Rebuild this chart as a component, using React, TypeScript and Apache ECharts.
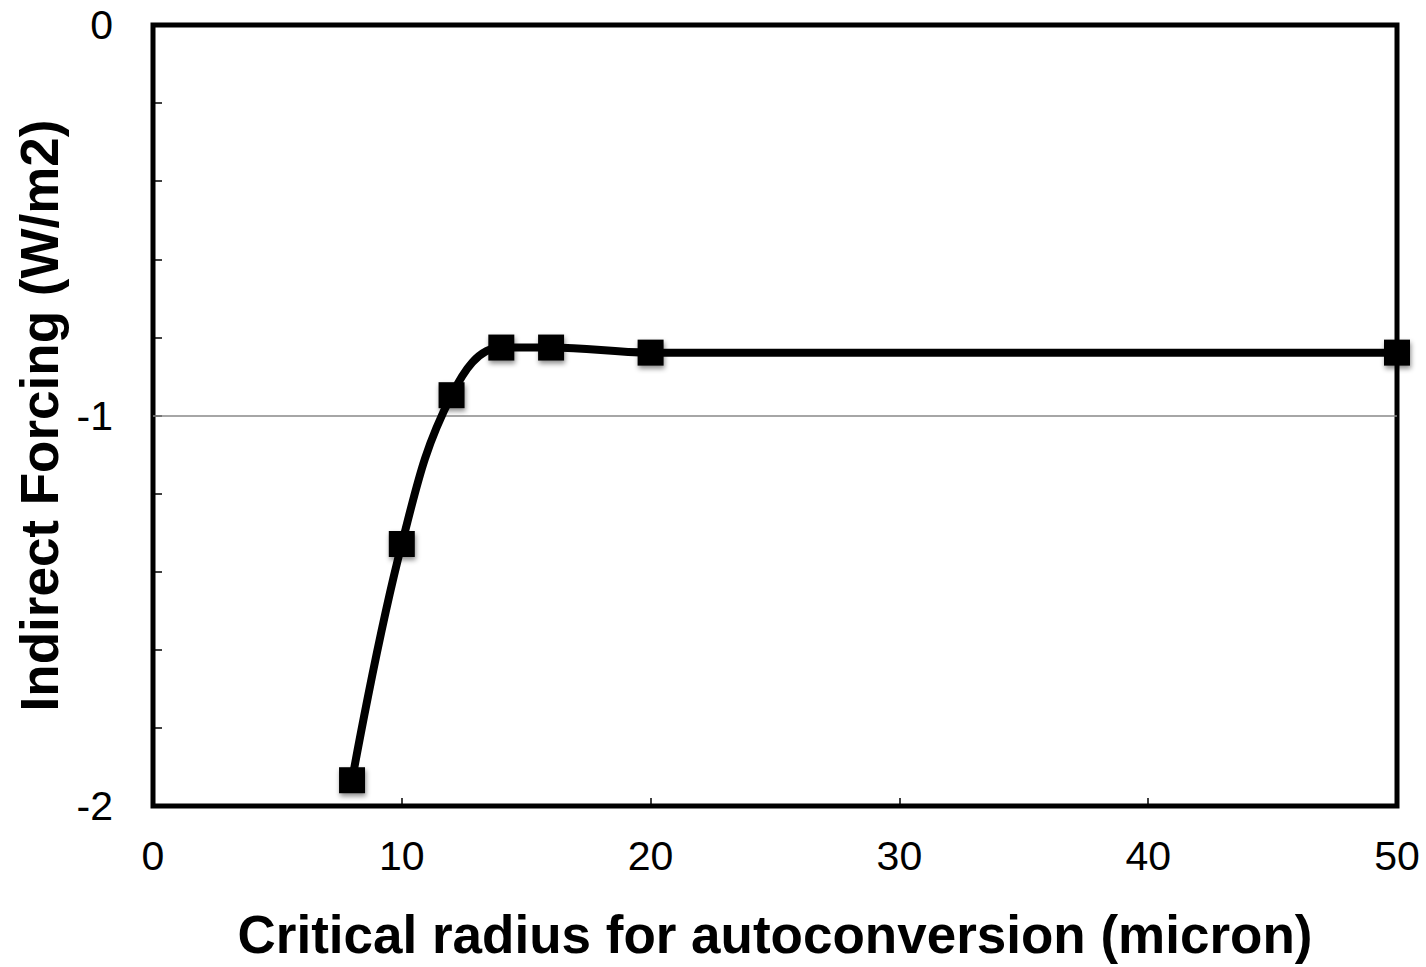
import React, { useEffect, useRef } from "react";
import * as echarts from "echarts";

const radius = [8, 10, 12, 14, 16, 20, 50];
const forcing = [-1.934, -1.329, -0.948, -0.826, -0.826, -0.839, -0.839];
const xTicks = [0, 10, 20, 30, 40, 50];
const yLabels = [0, -1, -2];
const xTitle = "Critical radius for autoconversion (micron)";
const yTitle = "Indirect Forcing (W/m2)";

const FONT = "'Liberation Sans', Arial, sans-serif";

export default function App() {
  const ref = useRef<HTMLDivElement>(null);
  useEffect(() => {
    if (!ref.current) return;
    const chart = echarts.init(ref.current, undefined, { renderer: "svg" });
    const data = radius.map((r, i) => [r, forcing[i]]);
    chart.setOption({
      animation: false,
      backgroundColor: "#fff",
      grid: {
        left: 153,
        right: 29,
        top: 25,
        bottom: 161,
        outerBoundsMode: "none",
        containLabel: false,
        show: true,
        borderColor: "#000",
        borderWidth: 5,
        backgroundColor: "transparent",
      },
      xAxis: {
        type: "value",
        min: xTicks[0],
        max: xTicks[xTicks.length - 1],
        interval: 10,
        axisLine: { show: false, onZero: false },
        axisTick: { show: true, inside: true, length: 8, lineStyle: { color: "#000", width: 1.5 } },
        splitLine: { show: false },
        axisLabel: { fontFamily: FONT, fontSize: 41, color: "#000", margin: 29 },
        name: xTitle,
        nameLocation: "middle",
        nameGap: 102,
        nameTextStyle: { fontFamily: FONT, fontSize: 53, fontWeight: "bold", color: "#000" },
      },
      yAxis: {
        type: "value",
        min: -2,
        max: 0,
        interval: 0.2,
        axisLine: { show: false, onZero: false },
        axisTick: { show: true, inside: true, length: 9, lineStyle: { color: "#000", width: 1.5 } },
        splitLine: { show: false },
        axisLabel: {
          fontFamily: FONT,
          fontSize: 41,
          color: "#000",
          margin: 40,
          formatter: (v: number) => {
            const r = Math.round(v);
            return Math.abs(v - r) < 1e-6 && yLabels.includes(r) ? String(r) : "";
          },
        },
        name: yTitle,
        nameLocation: "middle",
        nameGap: 83,
        nameTextStyle: { fontFamily: FONT, fontSize: 53, fontWeight: "bold", color: "#000" },
      },
      series: [
        {
          type: "line",
          data,
          smooth: 0.4,
          clip: false,
          symbol: "rect",
          symbolSize: 26,
          lineStyle: { color: "#000", width: 8 },
          itemStyle: {
            color: "#000",
            shadowColor: "rgba(0,0,0,0.45)",
            shadowBlur: 5,
            shadowOffsetX: 1,
            shadowOffsetY: 3,
          },
          z: 5,
          markLine: {
            silent: true,
            symbol: "none",
            label: { show: false },
            lineStyle: { color: "#888", width: 1.5, type: "solid" },
            data: [{ yAxis: -1 }],
            z: 1,
          },
        },
      ],
    });
    return () => chart.dispose();
  }, []);
  return (
    <div
      ref={ref}
      style={{ position: "fixed", left: 0, top: 0, width: 1426, height: 967, background: "#fff" }}
    />
  );
}
